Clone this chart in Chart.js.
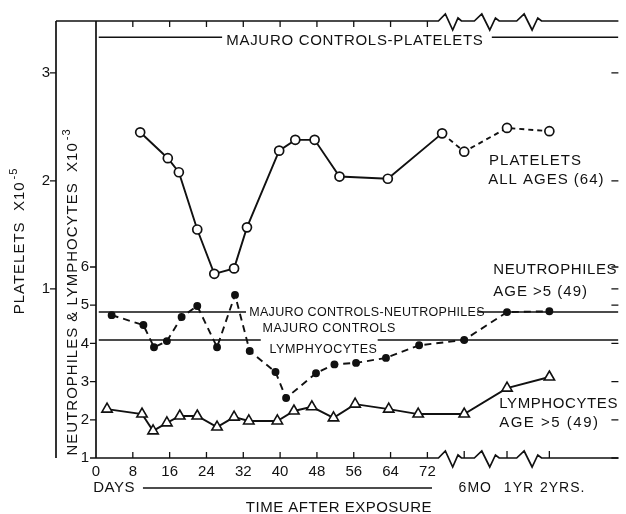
<!DOCTYPE html>
<html>
<head>
<meta charset="utf-8">
<script src="https://cdn.jsdelivr.net/npm/chart.js@4.4.1/dist/chart.umd.min.js"></script>
<style>
    html, body { margin: 0; padding: 0; background: #fff; }
    #wrap { width: 626px; height: 514px; }
</style>
</head>
<body>
<div id="wrap"><canvas id="chart" width="626" height="514"></canvas></div>
<script>
// --- Data (x = days after exposure; late visits sit on the broken part of the axis) ---
const SIX_MO = 80, ONE_YR = 89.3, TWO_YRS = 98.5;

const dayTicks = [0, 8, 16, 24, 32, 40, 48, 56, 64, 72];
const lateTicks = [SIX_MO, ONE_YR, TWO_YRS];
const lateLabels = ['6MO', '1YR', '2YRS.'];
const neutroTicks = [1, 2, 3, 4, 5, 6];
const plateletTicks = [1, 2, 3];

const plateletDays = [9.6, 15.6, 18, 22, 25.7, 30, 32.8, 39.8, 43.3, 47.5, 52.9, 63.4, 75.2, SIX_MO, ONE_YR, TWO_YRS];
const plateletVals = [2.45, 2.21, 2.08, 1.55, 1.14, 1.19, 1.57, 2.28, 2.38, 2.38, 2.04, 2.02, 2.44, 2.27, 2.49, 2.46];

const neutroDays = [3.4, 10.3, 12.6, 15.4, 18.6, 22, 26.3, 30.2, 33.4, 39, 41.3, 47.8, 51.8, 56.5, 63, 70.2, SIX_MO, ONE_YR, TWO_YRS];
const neutroVals = [4.74, 4.48, 3.90, 4.06, 4.69, 4.98, 3.90, 5.27, 3.80, 3.25, 2.57, 3.22, 3.45, 3.49, 3.62, 3.95, 4.09, 4.82, 4.84];

const lymphDays = [2.4, 10, 12.4, 15.4, 18.2, 22, 26.3, 30, 33.2, 39.4, 43, 46.9, 51.6, 56.3, 63.6, 70, SIX_MO, ONE_YR, TWO_YRS];
const lymphVals = [2.28, 2.15, 1.71, 1.92, 2.10, 2.10, 1.81, 2.07, 1.97, 1.97, 2.23, 2.34, 2.05, 2.41, 2.28, 2.15, 2.15, 2.83, 3.12];

// Majuro control levels and the day spans where their lines are drawn (gaps hold the labels)
const ctrlPlatelets = 3.33;
const ctrlNeutro = 4.82;
const ctrlLymph = 4.09;
const ctrlPlateletSpans = [[0.6, 27.4], [86, 113.5]];
const ctrlNeutroSpans = [[0.6, 32.6], [82.8, 113.5]];
const ctrlLymphSpans = [[0.6, 35.8], [61.2, 113.5]];

// axis breaks (days) drawn as zigzags
const axisBreaks = [[74.4, 79.4], [82.2, 87.6], [91.4, 96.8]];

const INK = '#111';
const FONT = '"Liberation Sans", Arial, sans-serif';

const pairs = (xs, ys) => xs.map((x, i) => ({ x, y: ys[i] }));
const spans = (level, ranges) => {
    const out = [];
    ranges.forEach((r, i) => {
        if (i > 0) out.push({ x: (ranges[i - 1][1] + r[0]) / 2, y: null });
        out.push({ x: r[0], y: level }, { x: r[1], y: level });
    });
    return out;
};

// text notes placed in data space
const notes = [
    { text: 'MAJURO CONTROLS-PLATELETS', x: 28.3, y: 3.30, axis: 'yP', size: 15, sp: 0.7 },
    { text: 'PLATELETS', x: 85.4, y: 2.19, axis: 'yP', size: 15, sp: 1 },
    { text: 'ALL AGES (64)', x: 85.2, y: 2.01, axis: 'yP', size: 15, sp: 1 },
    { text: 'NEUTROPHILES', x: 86.3, y: 5.92, axis: 'y', size: 15, sp: 0.6 },
    { text: 'AGE >5 (49)', x: 86.3, y: 5.35, axis: 'y', size: 15, sp: 1 },
    { text: 'LYMPHOCYTES', x: 87.6, y: 2.41, axis: 'y', size: 15, sp: 0.6 },
    { text: 'AGE >5 (49)', x: 87.6, y: 1.92, axis: 'y', size: 15, sp: 1.5 },
    { text: 'MAJURO CONTROLS-NEUTROPHILES', x: 33.3, y: 4.82, axis: 'y', size: 12.5, sp: 0.3 },
    { text: 'MAJURO CONTROLS', x: 36.2, y: 4.40, axis: 'y', size: 12.5, sp: 0.5 },
    { text: 'LYMPHYOCYTES', x: 37.7, y: 3.85, axis: 'y', size: 12.5, sp: 0.5 }
];

function zigzagLine(ctx, y, x0, x1, breaks, xs) {
    ctx.beginPath();
    ctx.moveTo(x0, y);
    breaks.forEach(b => {
        const a = xs.getPixelForValue(b[0]), e = xs.getPixelForValue(b[1]), w = e - a;
        ctx.lineTo(a, y);
        ctx.lineTo(a + w * 0.3, y - 7);
        ctx.lineTo(a + w * 0.62, y + 9);
        ctx.lineTo(a + w * 0.85, y - 3);
        ctx.lineTo(e, y);
    });
    ctx.lineTo(x1, y);
    ctx.stroke();
}

function verticalTitle(ctx, main, sup, cx, cy) {
    ctx.save();
    ctx.translate(cx, cy);
    ctx.rotate(-Math.PI / 2);
    ctx.letterSpacing = '1px';
    ctx.font = `15px ${FONT}`;
    const w1 = ctx.measureText(main).width;
    ctx.font = `11px ${FONT}`;
    const w2 = ctx.measureText(sup).width;
    let x = -(w1 + w2 + 2) / 2;
    ctx.textAlign = 'left';
    ctx.textBaseline = 'middle';
    ctx.font = `15px ${FONT}`;
    ctx.fillText(main, x, 0);
    ctx.font = `11px ${FONT}`;
    ctx.fillText(sup, x + w1 + 2, -6);
    ctx.restore();
}

const framePlugin = {
    id: 'frame',
    beforeDatasetsDraw(chart) {
        const { ctx, chartArea: ca, scales } = chart;
        const xs = scales.x, yN = scales.y, yP = scales.yP;
        const outer = yP.right;
        ctx.save();
        ctx.strokeStyle = INK;
        ctx.lineWidth = 1.7;
        // verticals
        ctx.beginPath();
        ctx.moveTo(ca.left, ca.top); ctx.lineTo(ca.left, ca.bottom);
        ctx.moveTo(outer, ca.top); ctx.lineTo(outer, ca.bottom);
        ctx.stroke();
        // top and bottom lines with breaks
        zigzagLine(ctx, ca.top, outer, ca.right, axisBreaks, xs);
        zigzagLine(ctx, ca.bottom, ca.left, ca.right, axisBreaks, xs);
        // inward ticks
        ctx.lineWidth = 1.3;
        ctx.beginPath();
        dayTicks.slice(1).forEach(v => {
            const px = xs.getPixelForValue(v);
            ctx.moveTo(px, ca.bottom); ctx.lineTo(px, ca.bottom - 6);
            ctx.moveTo(px, ca.top); ctx.lineTo(px, ca.top + 6);
        });
        lateTicks.forEach(v => {
            const px = xs.getPixelForValue(v);
            ctx.moveTo(px, ca.bottom); ctx.lineTo(px, ca.bottom - 7);
        });
        // left ticks (and short marks on the right edge)
        neutroTicks.forEach(v => {
            const py = yN.getPixelForValue(v);
            ctx.moveTo(ca.left - 6, py); ctx.lineTo(ca.left, py);
            ctx.moveTo(ca.right - 7, py); ctx.lineTo(ca.right, py);
        });
        plateletTicks.forEach(v => {
            const py = yP.getPixelForValue(v);
            ctx.moveTo(outer - 6, py); ctx.lineTo(outer, py);
            ctx.moveTo(ca.right - 7, py); ctx.lineTo(ca.right, py);
        });
        ctx.stroke();
        ctx.restore();
    },
    afterDatasetsDraw(chart) {
        const { ctx, chartArea: ca, scales } = chart;
        const xs = scales.x;
        ctx.save();
        ctx.fillStyle = INK;
        ctx.strokeStyle = INK;
        ctx.textBaseline = 'middle';
        ctx.textAlign = 'left';
        notes.forEach(n => {
            ctx.font = `${n.size}px ${FONT}`;
            ctx.letterSpacing = `${n.sp}px`;
            ctx.fillText(n.text, xs.getPixelForValue(n.x), scales[n.axis].getPixelForValue(n.y));
        });
        // axis titles
        verticalTitle(ctx, 'PLATELETS  X10', '-5', scales.yP.left + 20, 241);
        verticalTitle(ctx, 'NEUTROPHILES & LYMPHOCYTES  X10', '-3', scales.yP.right + 17, 292);
        // bottom texts
        ctx.font = `15px ${FONT}`;
        ctx.letterSpacing = '0.5px';
        ctx.textAlign = 'left';
        ctx.fillText('DAYS', xs.getPixelForValue(-0.6), ca.bottom + 30);
        ctx.lineWidth = 1.5;
        ctx.beginPath();
        ctx.moveTo(xs.getPixelForValue(10.2), ca.bottom + 30);
        ctx.lineTo(xs.getPixelForValue(73), ca.bottom + 30);
        ctx.stroke();
        ctx.textAlign = 'right';
        ctx.fillText('TIME AFTER EXPOSURE', xs.getPixelForValue(73), ca.bottom + 50);
        ctx.font = `14px ${FONT}`;
        ctx.letterSpacing = '1px';
        ctx.textAlign = 'center';
        const lateCentres = [82.4, 91.9, 101.4];
        lateLabels.forEach((t, i) => ctx.fillText(t, xs.getPixelForValue(lateCentres[i]), ca.bottom + 30));
        ctx.restore();
    }
};

const controlLine = (data, axis) => ({
    data, yAxisID: axis, borderColor: INK, borderWidth: 1.5,
    pointRadius: 0, spanGaps: false, tension: 0
});

new Chart(document.getElementById('chart'), {
    type: 'line',
    data: {
        datasets: [
            {
                label: 'Platelets', yAxisID: 'yP', data: pairs(plateletDays, plateletVals),
                borderColor: INK, borderWidth: 1.9, tension: 0,
                pointStyle: 'circle', pointRadius: 4.5, pointBackgroundColor: '#fff',
                pointBorderColor: INK, pointBorderWidth: 1.7,
                segment: { borderDash: c => c.p0DataIndex >= 12 ? [5, 4] : undefined }
            },
            {
                label: 'Neutrophiles', yAxisID: 'y', data: pairs(neutroDays, neutroVals),
                borderColor: INK, borderWidth: 1.9, borderDash: [7, 5], tension: 0,
                pointStyle: 'circle', pointRadius: 3, pointBackgroundColor: INK, pointBorderColor: INK
            },
            {
                label: 'Lymphocytes', yAxisID: 'y', data: pairs(lymphDays, lymphVals),
                borderColor: INK, borderWidth: 1.9, tension: 0,
                pointStyle: 'triangle', pointRadius: 6, pointBackgroundColor: '#fff',
                pointBorderColor: INK, pointBorderWidth: 1.6
            },
            controlLine(spans(ctrlPlatelets, ctrlPlateletSpans), 'yP'),
            controlLine(spans(ctrlNeutro, ctrlNeutroSpans), 'y'),
            controlLine(spans(ctrlLymph, ctrlLymphSpans), 'y')
        ]
    },
    options: {
        responsive: false,
        animation: false,
        layout: { padding: { top: 21, right: 0, bottom: 0, left: 0 } },
        plugins: { legend: { display: false }, tooltip: { enabled: false } },
        scales: {
            x: {
                type: 'linear', min: 0, max: 113.5,
                grid: { display: false, drawTicks: false }, border: { display: false },
                afterBuildTicks: s => { s.ticks = dayTicks.map(v => ({ value: v })); },
                afterFit: s => { s.height = 56; },
                ticks: { autoSkip: false, maxRotation: 0, padding: 5, color: INK, font: { family: FONT, size: 15 }, callback: v => v }
            },
            y: {
                position: 'left', weight: 0, min: 1, max: 12.44,
                grid: { display: false, drawTicks: false }, border: { display: false },
                afterBuildTicks: s => { s.ticks = neutroTicks.map(v => ({ value: v })); },
                afterFit: s => { s.width = 40; },
                ticks: { padding: 7, color: INK, font: { family: FONT, size: 15 }, callback: v => v }
            },
            yP: {
                position: 'left', weight: 1, min: -0.565, max: 3.48,
                grid: { display: false, drawTicks: false }, border: { display: false },
                afterBuildTicks: s => { s.ticks = plateletTicks.map(v => ({ value: v })); },
                afterFit: s => { s.width = 56; },
                ticks: { padding: 6, color: INK, font: { family: FONT, size: 15 }, callback: v => v }
            }
        }
    },
    plugins: [framePlugin]
});
</script>
</body>
</html>
